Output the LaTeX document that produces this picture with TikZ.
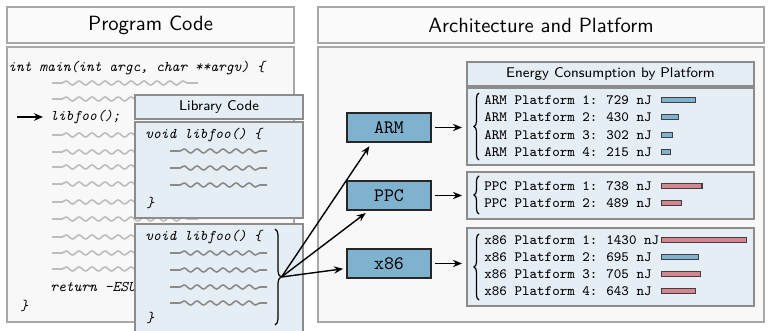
\documentclass[tikz,border=0pt]{standalone}
\usepackage{fontspec}
\usetikzlibrary{arrows.meta,decorations.pathmorphing,decorations.pathreplacing,calc}
\definecolor{panelfill}{HTML}{F8F8F8}
\definecolor{headfill}{HTML}{FBFBFB}
\definecolor{panelline}{HTML}{A8A8A8}
\definecolor{libfill}{HTML}{E6EEF5}
\definecolor{libline}{HTML}{8C8C8C}
\definecolor{archblue}{HTML}{7FB2CF}
\definecolor{barred}{HTML}{D6858E}
\definecolor{sqlight}{HTML}{BDBDBD}
\definecolor{sqdark}{HTML}{8A8A8A}
\begin{document}
\begin{tikzpicture}[x=0.5pt,y=-0.5pt,
  panel/.style={draw=panelline, line width=0.8pt, fill=panelfill, anchor=north west, inner sep=0pt, outer sep=0pt},
  head/.style={panel, fill=headfill, font=\sffamily\fontsize{10.3}{12}\selectfont},
  libbox/.style={draw=libline, line width=0.9pt, fill=libfill, anchor=north west, inner sep=0pt, outer sep=0pt},
  libhead/.style={libbox, font=\sffamily\fontsize{7.05}{9}\selectfont},
  archbox/.style={draw=black!85, line width=0.9pt, fill=archblue, minimum width=42pt, minimum height=14.5pt, inner sep=0pt, outer sep=0pt, font=\ttfamily\fontsize{9.5}{11}\selectfont},
  code/.style={anchor=west, inner sep=0pt, font=\ttfamily\itshape\fontsize{7.4}{9}\selectfont},
  plat/.style={anchor=west, inner sep=0pt, font=\ttfamily\fontsize{7.1}{9}\selectfont},
  squig/.style={decorate, decoration={snake, segment length=6.5pt, amplitude=1pt, pre length=5pt, post length=3pt}, line width=0.8pt},
  bar/.style={draw=black!75, line width=0.7pt},
  arr/.style={-{Stealth[length=4.5pt,width=3.6pt]}, line width=0.7pt},
  brc/.style={decorate, line width=0.6pt}
]
\path[use as bounding box, fill=white] (0,0) rectangle (771,331);

% panels
\node[head, minimum width=143.5pt, minimum height=18pt] (ph) at (7,7) {Program Code};
\node[panel, minimum width=143.5pt, minimum height=137.5pt] (pb) at (7,47) {};
\node[head, minimum width=223pt, minimum height=18pt] (ah) at (318,7) {Architecture and Platform};
\node[panel, minimum width=223pt, minimum height=137.5pt] (ab) at (318,47) {};

% program code
\node[code] (main) at (8,68) {int main(int argc, char **argv) \{};
\foreach \yy in {83,99,135,152,167,184,202,219,237,253,269}
  \draw[squig, sqlight] (52,\yy) -- (198,\yy);
\node[code] (call) at (50,117) {libfoo();};
\coordinate (callsrc) at (17,117);
\draw[-{Stealth[length=4.5pt,width=3.8pt]}, line width=0.8pt, shorten >=3.5pt] (callsrc) -- (call.west);
\node[code] (ret) at (50,288) {return -ESUCCESS;};
\node[code] (mainend) at (20,306) {\}};

% library code
\node[libhead, minimum width=84pt, minimum height=12pt] (lh) at (135,95) {Library Code};
\node[libbox, minimum width=84pt, minimum height=48pt] (lb1) at (135,122) {};
\node[libbox, minimum width=84pt, minimum height=60pt] (lb2) at (135,224) {};
\node[code] (lf1) at (145,135) {void libfoo() \{};
\foreach \yy in {151,168,185}
  \draw[squig, sqdark] (170,\yy) -- (267,\yy);
\node[code] (le1) at (146,203) {\}};
\node[code] (lf2) at (145,237) {void libfoo() \{};
\foreach \yy in {253,270,287,303}
  \draw[squig, sqdark] (170,\yy) -- (267,\yy);
\node[code] (le2) at (146,318) {\}};
\draw[brc, decoration={brace, amplitude=3pt}] (275,229) -- (275,325);
\coordinate (btip) at (281.5,277);

% architectures
\node[archbox] (arm) at (389,127.5) {ARM};
\node[archbox] (ppc) at (389,195.5) {PPC};
\node[archbox] (x86) at (389,263.5) {x86};

\draw[arr, shorten >=2.5pt] (btip) -- ($(arm.south west)!0.3!(arm.south east)$);
\draw[arr, shorten >=2.5pt] (btip) -- ($(ppc.south west)!0.27!(ppc.south east)$);
\draw[arr, shorten >=2pt] (btip) -- ($(x86.north west)!0.665!(x86.south west)$);

% energy boxes
\node[libhead, minimum width=143.5pt, minimum height=12pt] (eh) at (467,62) {Energy Consumption by Platform};
\node[libbox, minimum width=143.5pt, minimum height=38.5pt] (la) at (467,88) {};
\node[libbox, minimum width=143.5pt, minimum height=23.5pt] (lp) at (467,172) {};
\node[libbox, minimum width=143.5pt, minimum height=39pt] (lx) at (467,228) {};

\draw[arr, shorten <=2pt, shorten >=2.5pt] (arm.east) -- (arm.east -| la.west);
\draw[arr, shorten <=2pt, shorten >=2.5pt] (ppc.east) -- (ppc.east -| lp.west);
\draw[arr, shorten <=2pt, shorten >=2.5pt] (x86.east) -- (x86.east -| lx.west);

\draw[brc, decoration={brace, amplitude=2.5pt}] (479,160) -- (479,93);
\draw[brc, decoration={brace, amplitude=2.5pt}] (479,214) -- (479,176);
\draw[brc, decoration={brace, amplitude=2.5pt}] (479,300) -- (479,234);

\foreach \nm/\yy/\vv/\ww/\cc [count=\i] in {
  ARM Platform 1:/100/729/35.3/archblue,
  ARM Platform 2:/117/430/18.3/archblue,
  ARM Platform 3:/135/302/12.3/archblue,
  ARM Platform 4:/152/215/10/archblue,
  PPC Platform 1:/186/738/41.7/barred,
  PPC Platform 2:/203/489/21.3/barred,
  x86 Platform 1:/240/1430/86/barred,
  x86 Platform 2:/257/695/38/archblue,
  x86 Platform 3:/274/705/40.3/barred,
  x86 Platform 4:/291/643/35.3/barred}
{
  \node[plat] (pl\i) at (484,\yy) {\nm};
  \node[plat] (pv\i) at (606,\yy) {\vv\ nJ};
  \draw[bar, fill=\cc] (661.7,\yy-2.6) rectangle ++(\ww-1.4,5.2);
}
\end{tikzpicture}
\end{document}
